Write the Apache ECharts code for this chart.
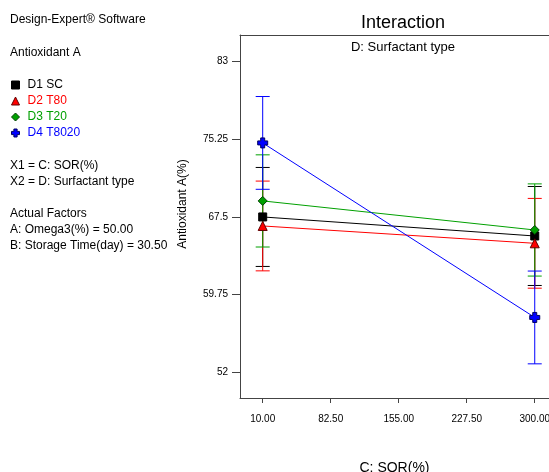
<!DOCTYPE html>
<html>
<head>
<meta charset="utf-8">
<script src="https://cdn.jsdelivr.net/npm/echarts@6/dist/echarts.min.js"></script>
<style>
html,body{margin:0;padding:0;background:#fff;}
#chart{width:549px;height:472px;}
</style>
</head>
<body>
<div id="chart"></div>
<script>
// ---- data ----
const sorLevels = [10, 300];
const xTicks = [10, 82.5, 155, 227.5, 300];
const yTicks = [52, 59.75, 67.5, 75.25, 83];
const seriesNames = ['D1 SC', 'D2 T80', 'D3 T20', 'D4 T8020'];
const d1Mean = [67.5, 65.6];
const d2Mean = [66.6, 64.87];
const d3Mean = [69.1, 66.2];
const d4Mean = [74.89, 57.47];
const d1Lsd = [4.94, 4.94];
const d2Lsd = [4.48, 4.48];
const d3Lsd = [4.6, 4.6];
const d4Lsd = [4.63, 4.63];
const infoLines = [
  'Design-Expert® Software',
  'Antioxidant A',
  'X1 = C: SOR(%)',
  'X2 = D: Surfactant type',
  'Actual Factors',
  'A: Omega3(%) = 50.00',
  'B: Storage Time(day) = 30.50'
];

const colors = ['#000000', '#ff0000', '#00a000', '#0000ff'];
const borderColors = ['#000000', '#600000', '#004000', '#000060'];
const plusPath = 'path://M3,0H7V3H10V7H7V10H3V7H0V3H3Z';
const symbols = ['rect', 'triangle', 'diamond', plusPath];
const symbolSizes = [8, 9, 9, 10];
const means = [d1Mean, d2Mean, d3Mean, d4Mean];
const lsds = [d1Lsd, d2Lsd, d3Lsd, d4Lsd];

const FONT = '"Liberation Sans", Arial, sans-serif';
const NARROW = '"Liberation Sans Narrow", "Liberation Sans", Arial, sans-serif';

const chart = echarts.init(document.getElementById('chart'), null, {renderer: 'canvas'});

const series = [];
// error bars
means.forEach((m, si) => {
  series.push({
    type: 'custom',
    name: seriesNames[si],
    silent: true,
    z: 2,
    data: sorLevels.map((x, i) => [x, m[i] - lsds[si][i], m[i] + lsds[si][i]]),
    renderItem: function (params, api) {
      const x = api.value(0);
      const lo = api.coord([x, api.value(1)]);
      const hi = api.coord([x, api.value(2)]);
      const hw = 7;
      const style = {stroke: colors[si], lineWidth: 1};
      return {
        type: 'group',
        children: [
          {type: 'line', shape: {x1: lo[0], y1: lo[1], x2: hi[0], y2: hi[1]}, style: style},
          {type: 'line', shape: {x1: lo[0] - hw, y1: lo[1], x2: lo[0] + hw, y2: lo[1]}, style: style},
          {type: 'line', shape: {x1: hi[0] - hw, y1: hi[1], x2: hi[0] + hw, y2: hi[1]}, style: style}
        ]
      };
    }
  });
});
// mean lines
means.forEach((m, si) => {
  series.push({
    type: 'line',
    name: seriesNames[si],
    z: 3,
    data: sorLevels.map((x, i) => [x, m[i]]),
    symbol: symbols[si],
    symbolSize: symbolSizes[si],
    lineStyle: {color: colors[si], width: 1},
    itemStyle: {color: colors[si], borderColor: borderColors[si], borderWidth: 1},
    emphasis: {disabled: true}
  });
});

const infoY = [19, 52, 165, 181, 213, 229, 245];
const graphics = infoLines.map((t, i) => ({
  type: 'text',
  left: 10,
  top: infoY[i] - 5,
  style: {text: t, fill: '#000', font: '12px ' + FONT}
}));
graphics.push({
  type: 'text',
  x: 183,
  y: 204,
  rotation: Math.PI / 2,
  style: {text: 'Antioxidant A(%)', fill: '#000', font: '12px ' + FONT, align: 'center', verticalAlign: 'middle'}
});

chart.setOption({
  animation: false,
  title: [
    {text: 'Interaction', left: 398, top: 9, textAlign: 'center',
     textStyle: {fontSize: 18, fontWeight: 'normal', color: '#000', fontFamily: FONT}},
    {text: 'D: Surfactant type', left: 398, top: 36, textAlign: 'center',
     textStyle: {fontSize: 13, fontWeight: 'normal', color: '#000', fontFamily: FONT}}
  ],
  legend: {
    orient: 'vertical',
    left: 11,
    top: 77,
    padding: 0,
    itemWidth: 8,
    itemHeight: 8,
    itemGap: 0,
    itemStyle: {borderWidth: 1},
    textStyle: {fontSize: 12, fontFamily: FONT, lineHeight: 16, padding: [0, 0, 0, 3]},
    data: seriesNames.map((n, i) => ({
      name: n,
      icon: symbols[i],
      itemStyle: {color: colors[i], borderColor: borderColors[i], borderWidth: 1},
      textStyle: {color: colors[i]}
    }))
  },
  grid: {left: 240, top: 35, right: 0, bottom: 74, show: false, containLabel: false, outerBoundsMode: 'none'},
  xAxis: [{
    type: 'value',
    min: -14.2,
    max: 315.2,
    name: 'C: SOR(%)',
    nameLocation: 'middle',
    nameGap: 63,
    nameTextStyle: {fontSize: 14, color: '#000', fontFamily: FONT},
    splitLine: {show: false},
    axisLine: {show: true, onZero: false, lineStyle: {color: '#444'}},
    axisTick: {show: true, length: 5, lineStyle: {color: '#444'}, customValues: xTicks},
    axisLabel: {show: true, margin: 16, fontSize: 10, color: '#000', fontFamily: NARROW,
      customValues: xTicks, formatter: v => Number(v).toFixed(2)}
  }, {
    type: 'value',
    position: 'top',
    min: -14.2,
    max: 315.2,
    splitLine: {show: false},
    axisLine: {show: true, onZero: false, lineStyle: {color: '#444'}},
    axisTick: {show: false},
    axisLabel: {show: false}
  }],
  yAxis: {
    type: 'value',
    min: 49.43,
    max: 85.66,
    splitLine: {show: false},
    axisLine: {show: true, onZero: false, lineStyle: {color: '#444'}},
    axisTick: {show: true, length: 8, lineStyle: {color: '#444'}, customValues: yTicks},
    axisLabel: {show: true, margin: 12, fontSize: 10, color: '#000', fontFamily: NARROW,
      customValues: yTicks, formatter: v => String(v)}
  },
  graphic: graphics,
  series: series
});
</script>
</body>
</html>
